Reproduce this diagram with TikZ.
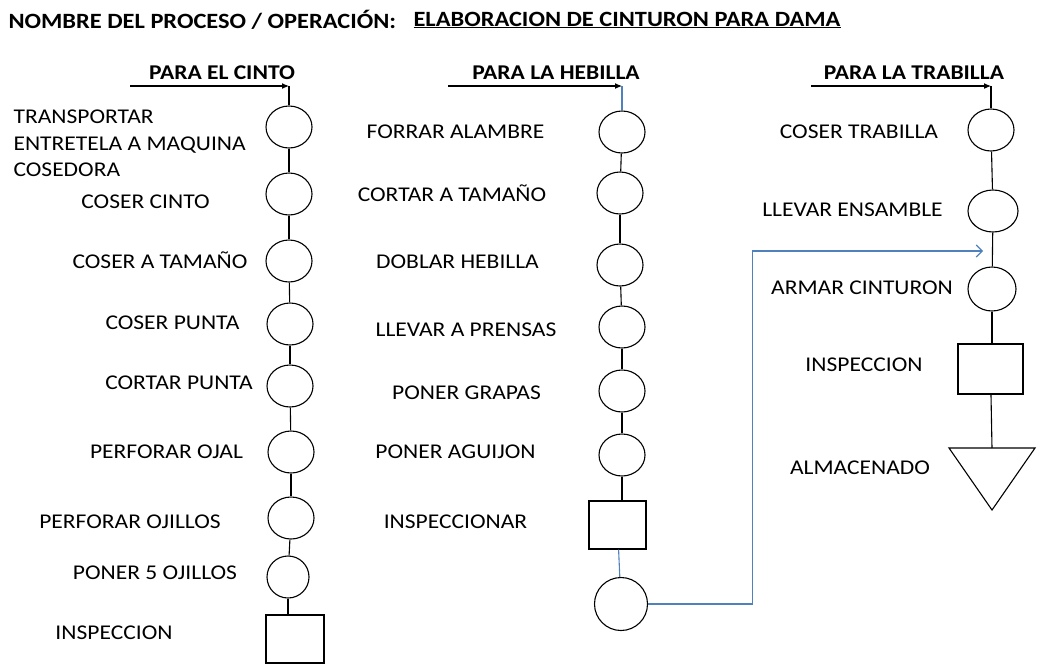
\documentclass[tikz,border=0pt]{standalone}
\usepackage{fontspec}
\setmainfont{Carlito}[FakeStretch=1.12]
\usepackage{tikz}
\usetikzlibrary{shapes.geometric,arrows.meta}
\definecolor{azul}{RGB}{79,129,189}

\begin{document}
\begin{tikzpicture}[x=1pt,y=-1pt,line width=1.1pt,
    lbl/.style={font=\fontsize{21}{26.5}\selectfont,inner sep=0pt},
    tit/.style={font=\fontsize{21}{26}\selectfont\bfseries,inner sep=0pt},
    op/.style={ellipse,draw,minimum width=46pt,minimum height=42pt,inner sep=0pt},
    insp/.style={rectangle,draw,minimum width=58pt,minimum height=48pt,inner sep=0pt},
    flecha/.style={-{Latex[length=7pt,width=6pt]}},
    azl/.style={draw=azul}]
\useasboundingbox (0,0) rectangle (1063,665);

\node[tit,font=\fontsize{21.8}{26}\selectfont\bfseries,anchor=west] (nom) at (8,20) {NOMBRE DEL PROCESO / OPERACIÓN:};
\node[tit,font=\fontsize{21.8}{26}\selectfont\bfseries,anchor=west] (proc) at (413,20) {\underline{ELABORACION DE CINTURON PARA DAMA}};

\node[tit] (pc) at (222,73) {PARA EL CINTO};
\node[tit] (ph) at (556,73) {PARA LA HEBILLA};
\node[tit] (pt) at (914,73) {PARA LA TRABILLA};

\coordinate (s1) at (130,86);
\coordinate (e1) at (289,86);
\coordinate (s2) at (448,86);
\coordinate (e2) at (622,86);
\coordinate (s3) at (811,86);
\coordinate (e3) at (991,86);

% para el cinto
\node[op] (c1) at (289,127) {};
\node[op] (c2) at (289,194) {};
\node[op] (c3) at (289,261) {};
\node[op] (c4) at (290,324) {};
\node[op] (c5) at (290,386) {};
\node[op] (c6) at (291,452) {};
\node[op] (c7) at (291,518) {};
\node[op,minimum width=42pt] (c8) at (288,577) {};
\node[insp] (c9) at (295,639) {};

\node[lbl,anchor=west,align=left] (lc1) at (13,143.5) {TRANSPORTAR\\ENTRETELA A MAQUINA\\COSEDORA};
\node[lbl] (lc2) at (145.5,202) {COSER CINTO};
\node[lbl] (lc3) at (160,260) {COSER A TAMAÑO};
\node[lbl] (lc4) at (172.5,323) {COSER PUNTA};
\node[lbl] (lc5) at (179,383) {CORTAR PUNTA};
\node[lbl] (lc6) at (166.5,452) {PERFORAR OJAL};
\node[lbl] (lc7) at (130,522) {PERFORAR OJILLOS};
\node[lbl] (lc8) at (155,573) {PONER 5 OJILLOS};
\node[lbl] (lc9) at (114,633) {INSPECCION};

% para la hebilla
\node[op] (h1) at (622,132) {};
\node[op] (h2) at (620,193) {};
\node[op] (h3) at (620,265) {};
\node[op] (h4) at (622,327) {};
\node[op] (h5) at (622,391) {};
\node[op] (h6) at (622,455) {};
\node[insp,minimum width=57pt] (h7) at (617.5,525) {};
\node[op,minimum width=53pt,minimum height=53pt] (h8) at (621,604) {};

\node[lbl] (lh1) at (455.5,132) {FORRAR ALAMBRE};
\node[lbl] (lh2) at (452,193) {CORTAR A TAMAÑO};
\node[lbl] (lh3) at (457.5,262) {DOBLAR HEBILLA};
\node[lbl] (lh4) at (466,330) {LLEVAR A PRENSAS};
\node[lbl] (lh5) at (466.5,393) {PONER GRAPAS};
\node[lbl] (lh6) at (455.5,452) {PONER AGUIJON};
\node[lbl] (lh7) at (455.5,522) {INSPECCIONAR};

% para la trabilla
\node[op] (t1) at (991,130) {};
\node[op,minimum width=50pt] (t2) at (993,211) {};
\node[op,minimum width=48pt,minimum height=44pt] (t3) at (992,289) {};
\node[insp,minimum width=65pt,minimum height=50pt] (t4) at (990.5,369) {};
\coordinate (t5) at (992,448);
\draw (949,448) -- (1035,448) -- (992,510) -- cycle;
\coordinate (ent) at (983,251);

\node[lbl] (lt1) at (859,132) {COSER TRABILLA};
\node[lbl] (lt2) at (852.5,210) {LLEVAR ENSAMBLE};
\node[lbl] (lt3) at (862,288) {ARMAR CINTURON};
\node[lbl] (lt4) at (864,365) {INSPECCION};
\node[lbl] (lt5) at (860,468) {ALMACENADO};

\draw[flecha] (s1) -- (e1);
\draw[flecha] (s2) -- (e2);
\draw[flecha] (s3) -- (e3);
\draw (e1) -- (c1);
\draw[azl] (e2) -- (h1);
\draw (e3) -- (t1);

\draw (c1) -- (c2);
\draw (c2) -- (c3);
\draw (c3) -- (c4);
\draw (c4) -- (c5);
\draw (c5) -- (c6);
\draw (c6) -- (c7);
\draw (c7) -- (c8);
\draw (c8) -- (c8 |- c9.north);

\draw (h1) -- (h2);
\draw (h2) -- (h3);
\draw (h3) -- (h4);
\draw (h4) -- (h5);
\draw (h5) -- (h6);
\draw (h6) -- (h6 |- h7.north);
\draw[azl] (h7) -- (h8);
\draw[azl,-{Straight Barb[length=6pt,width=12pt]}] (h8.east) -- ++(104,0) |- (ent);

\draw (t1) -- (t2);
\draw (t2) -- (t3);
\draw (t3) -- (t3 |- t4.north);
\draw (t4) -- (t5);
\end{tikzpicture}
\end{document}
